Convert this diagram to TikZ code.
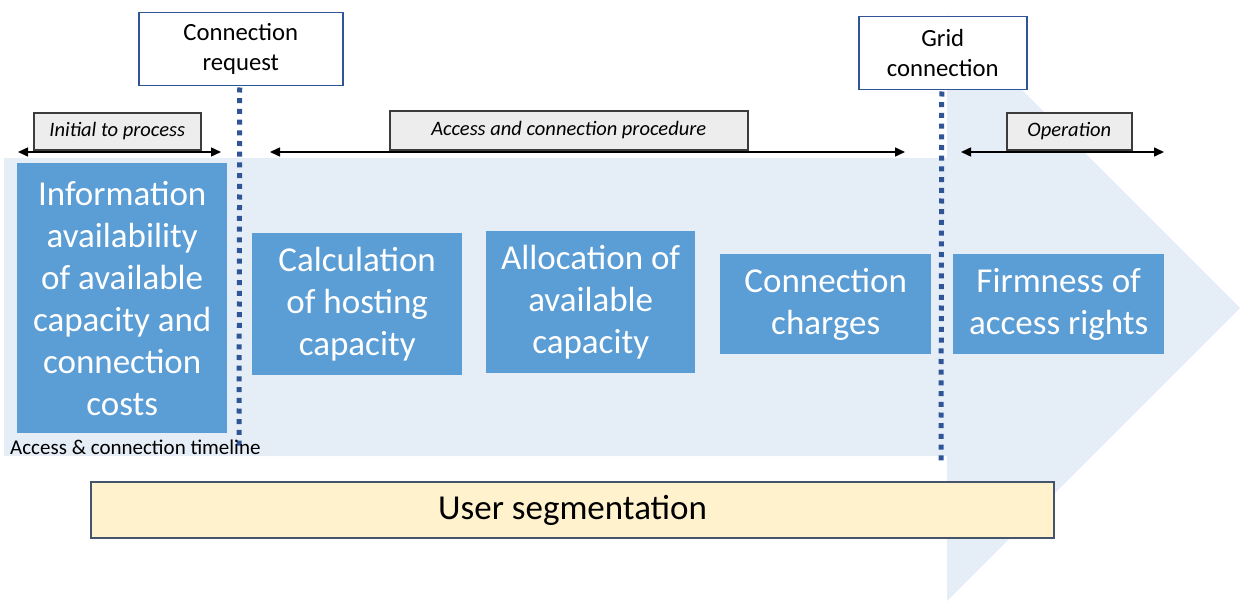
\documentclass[tikz,border=0pt]{standalone}
\usepackage{fontspec}
\setmainfont{Carlito}
\usetikzlibrary{arrows.meta}

\definecolor{bandblue}{RGB}{229,237,247}
\definecolor{stepblue}{RGB}{91,157,213}
\definecolor{markblue}{RGB}{47,85,151}
\definecolor{labelgray}{RGB}{237,237,237}
\definecolor{labeledge}{RGB}{60,60,60}
\definecolor{segfill}{RGB}{255,242,204}
\definecolor{segedge}{RGB}{68,84,106}

\tikzset{
  stepbox/.style={fill=stepblue, text=white, inner sep=0pt, anchor=north west,
    align=center, font=\fontsize{35}{42}\selectfont},
  phaselabel/.style={fill=labelgray, draw=labeledge, line width=1.5pt, inner sep=0pt,
    anchor=north west, font=\fontsize{20.5}{24}\selectfont\itshape},
  milestone/.style={fill=white, draw=markblue, line width=1.5pt, inner sep=0pt,
    anchor=north west, align=center, font=\fontsize{24.7}{30}\selectfont},
  span/.style={line width=1.5pt, {Triangle[length=10pt,width=9pt]}-{Triangle[length=10pt,width=9pt]}},
  marker/.style={draw=markblue, line width=5pt, dash pattern=on 5pt off 5.7pt}
}

\begin{document}
\begin{tikzpicture}[x=1pt, y=-1pt]
\useasboundingbox (0,0) rectangle (1240,602);

% timeline band with its arrow head
\fill[bandblue] (4,158) -- (947,158) -- (947,15) -- (1240,308) -- (947,601)
  -- (947,456) -- (4,456) -- cycle;

% process steps
\node[stepbox, minimum width=210pt, minimum height=270pt] (info) at (17,163)
  {Information\\availability\\of available\\capacity and\\connection\\costs};
\node[stepbox, minimum width=210pt, minimum height=142pt] (calc) at (252,233)
  {Calculation\\of hosting\\capacity};
\node[stepbox, minimum width=209pt, minimum height=142pt] (alloc) at (486,231)
  {Allocation of\\available\\capacity};
\node[stepbox, minimum width=211pt, minimum height=100pt] (charges) at (720,254)
  {Connection\\charges};
\node[stepbox, minimum width=211pt, minimum height=100pt] (firm) at (953,254)
  {Firmness of\\access rights};

% phase labels and their spans
\node[phaselabel, minimum width=167pt, minimum height=37pt] (initial) at (33,112)
  {Initial to process};
\node[phaselabel, minimum width=358pt, minimum height=39pt] (procedure) at (389,110)
  {Access and connection procedure};
\node[phaselabel, minimum width=125pt, minimum height=37pt] (operation) at (1006,112)
  {Operation};

\coordinate (i1) at (18,152);   \coordinate (i2) at (221,152);
\coordinate (p1) at (270,152);  \coordinate (p2) at (905,152);
\coordinate (o1) at (961,152);  \coordinate (o2) at (1164,152);
\draw[span] (i1) -- (i2);
\draw[span] (p1) -- (p2);
\draw[span] (o1) -- (o2);

% milestones
\node[milestone, minimum width=204pt, minimum height=73pt] (request) at (138,12)
  {Connection\\request};
\node[milestone, minimum width=168pt, minimum height=73pt] (grid) at (858,16)
  {Grid\\connection};

\coordinate (r2) at (239,446);
\coordinate (g2) at (941,464);
\draw[marker] (request.south) ++(-1,1) -- (r2);
\draw[marker] (grid.south) ++(-1,1) -- (g2);

\node[anchor=west, inner sep=0pt, font=\fontsize{21}{25}\selectfont] (timeline) at (10,447)
  {Access \& connection timeline};

% cross-cutting theme
\node[fill=segfill, draw=segedge, line width=2.2pt, inner sep=0pt, anchor=north west,
  minimum width=963pt, minimum height=56pt, font=\fontsize{35}{42}\selectfont] (segment)
  at (90,481) {User segmentation};
\end{tikzpicture}
\end{document}
